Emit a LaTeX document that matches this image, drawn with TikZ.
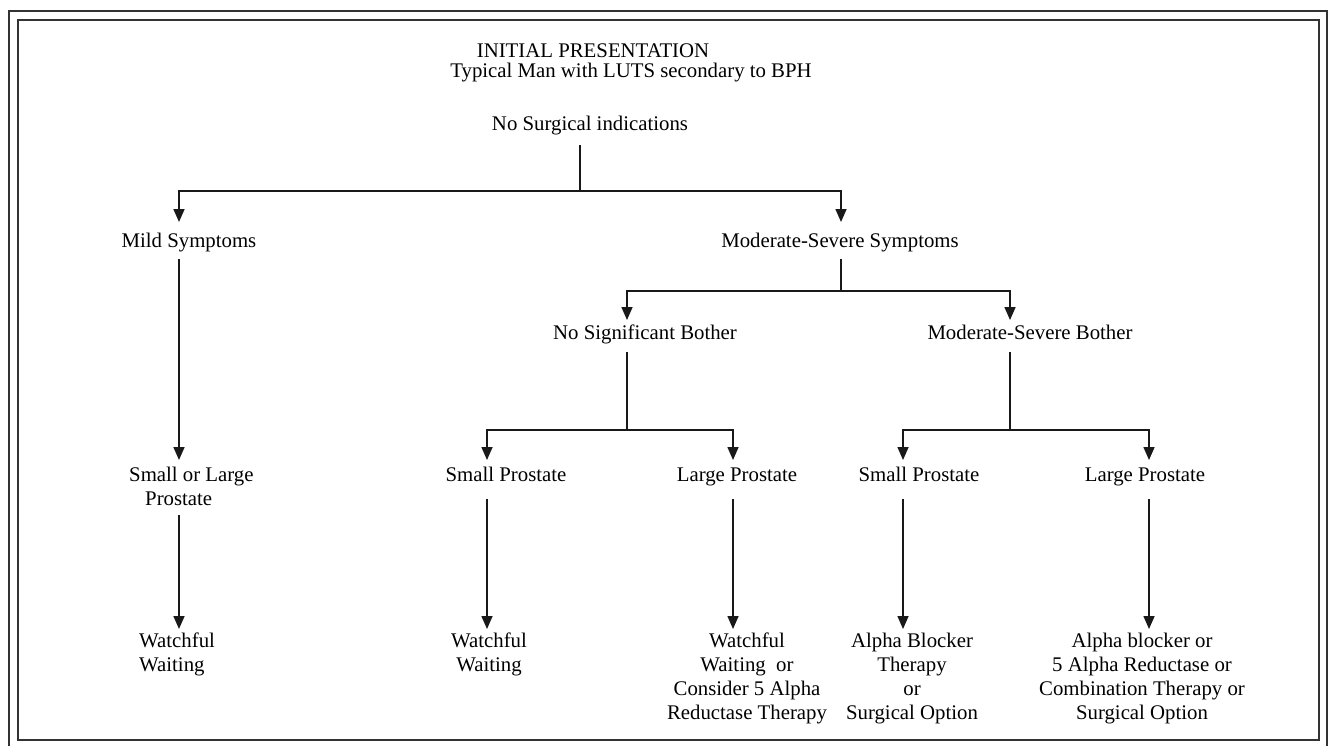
\documentclass[tikz,border=0pt]{standalone}
\usepackage{fontspec}
\setmainfont{Liberation Serif}
\usetikzlibrary{arrows.meta}
\begin{document}
\begin{tikzpicture}[x=1pt,y=-1pt,
  txt/.style={inner sep=0pt,font=\fontsize{20.8}{24}\selectfont},
  mtxt/.style={txt,align=center,anchor=north},
  ln/.style={line width=1.6pt,black!90},
  arr/.style={ln,-{Triangle[width=11pt,length=13pt]}},
  frame/.style={line width=1.5pt,black!80}]
\useasboundingbox (0,0) rectangle (1329,745);
% frames
\draw[frame] (9,11) rectangle (1327,752);
\draw[frame] (18,20) rectangle (1319,740);
% texts
\node[txt,anchor=base] (t1) at (593,57) {INITIAL PRESENTATION};
\node[txt,anchor=base] (t2) at (631,77) {Typical Man with LUTS secondary to BPH};
\node[txt,anchor=base] (nsi) at (590,130) {No Surgical indications};
\node[txt,anchor=base] (mild) at (189,247) {Mild Symptoms};
\node[txt,anchor=base] (mod) at (840,247) {Moderate-Severe Symptoms};
\node[txt,anchor=base] (nsb) at (645,339) {No Significant Bother};
\node[txt,anchor=base] (msb) at (1030,339) {Moderate-Severe Bother};
\node[txt,align=left,anchor=north west] (slp) at (129,467) {Small or Large\\\hspace*{16pt}Prostate};
\node[txt,anchor=base] (sp1) at (506,481) {Small Prostate};
\node[txt,anchor=base] (lp1) at (737,481) {Large Prostate};
\node[txt,anchor=base] (sp2) at (919,481) {Small Prostate};
\node[txt,anchor=base] (lp2) at (1145,481) {Large Prostate};
\node[txt,align=left,anchor=north west] (ww1) at (139,633) {Watchful\\Waiting};
\node[mtxt] (ww2) at (489,633) {Watchful\\Waiting};
\node[mtxt] (ww3) at (747,633) {Watchful\\Waiting\ \ or\\Consider 5 Alpha\\Reductase Therapy};
\node[mtxt] (abt) at (912,633) {Alpha Blocker\\Therapy\\or\\Surgical Option};
\node[mtxt] (ab) at (1142,633) {Alpha blocker or\\5 Alpha Reductase or\\Combination Therapy or\\Surgical Option};
% connector points
\coordinate (r0) at (580,145);
\coordinate (j1) at (580,191);
\coordinate (mildtip) at (179,222);
\coordinate (modtip) at (841,222);
\coordinate (m0) at (841,259);
\coordinate (j2) at (841,291);
\coordinate (nsbtip) at (627,320);
\coordinate (msbtip) at (1010,320);
\coordinate (n0) at (627,352);
\coordinate (j3) at (627,430);
\coordinate (sp1tip) at (487,460);
\coordinate (lp1tip) at (733,460);
\coordinate (s0) at (1010,352);
\coordinate (j4) at (1010,430);
\coordinate (sp2tip) at (903,460);
\coordinate (lp2tip) at (1149,460);
\coordinate (mi0) at (179,259);
\coordinate (sliptip) at (179,460);
\coordinate (sl0) at (179,515);
\coordinate (ww1tip) at (179,629);
\coordinate (a0) at (487,499);
\coordinate (ww2tip) at (487,629);
\coordinate (b0) at (733,499);
\coordinate (ww3tip) at (733,629);
\coordinate (c0) at (903,499);
\coordinate (abttip) at (903,629);
\coordinate (d0) at (1149,499);
\coordinate (abtip) at (1149,629);
% connectors
\draw[ln] (r0) -- (j1);
\draw[arr] (j1) -| (mildtip);
\draw[arr] (j1) -| (modtip);
\draw[ln] (m0) -- (j2);
\draw[arr] (j2) -| (nsbtip);
\draw[arr] (j2) -| (msbtip);
\draw[ln] (n0) -- (j3);
\draw[arr] (j3) -| (sp1tip);
\draw[arr] (j3) -| (lp1tip);
\draw[ln] (s0) -- (j4);
\draw[arr] (j4) -| (sp2tip);
\draw[arr] (j4) -| (lp2tip);
\draw[arr] (mi0) -- (sliptip);
\draw[arr] (sl0) -- (ww1tip);
\draw[arr] (a0) -- (ww2tip);
\draw[arr] (b0) -- (ww3tip);
\draw[arr] (c0) -- (abttip);
\draw[arr] (d0) -- (abtip);
\end{tikzpicture}
\end{document}
